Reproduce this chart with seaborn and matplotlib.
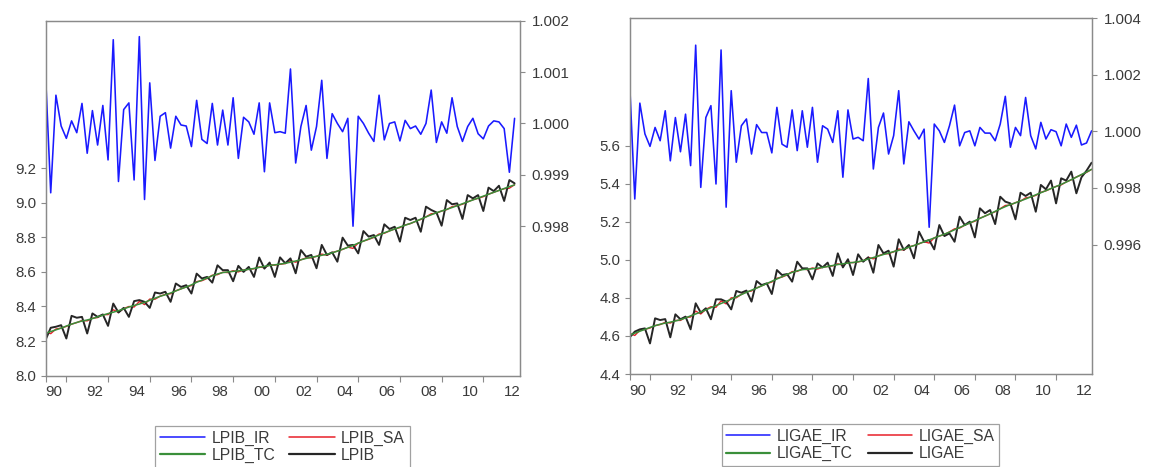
import numpy as np
import pandas as pd
import matplotlib
matplotlib.use("Agg")
import matplotlib.pyplot as plt
from matplotlib.lines import Line2D
from matplotlib.ticker import FixedLocator, FormatStrFormatter
import seaborn as sns

# ---------------- data (quarterly, 1990Q1 onward) ----------------
year_labels = ["90", "92", "94", "96", "98", "00", "02", "04", "06", "08", "10", "12"]

lpib_ir = [1.00097, 0.99865, 1.00055, 0.99995, 0.99971, 1.00005, 0.99982, 1.00039,
           0.99942, 1.00025, 0.99958, 1.00035, 0.99929, 1.00163, 0.99887, 1.00027,
           1.00040, 0.99890, 1.00169, 0.99852, 1.00079, 0.99928, 1.00014, 1.00021,
           0.99952, 1.00014, 0.99997, 0.99995, 0.99955, 1.00045, 0.99969, 0.99961,
           1.00039, 0.99958, 1.00026, 0.99958, 1.00050, 0.99932, 1.00012, 1.00003,
           0.99979, 1.00040, 0.99906, 1.00040, 0.99982, 0.99984, 0.99981, 1.00106,
           0.99923, 0.99994, 1.00035, 0.99948, 0.99994, 1.00084, 0.99932, 1.00019,
           1.00000, 0.99984, 1.00010, 0.99800, 1.00014, 1.00000, 0.99981, 0.99965,
           1.00055, 0.99968, 1.00000, 1.00003, 0.99966, 1.00006, 0.99990, 0.99995,
           0.99979, 1.00000, 1.00065, 0.99963, 1.00003, 0.99981, 1.00050, 0.99994,
           0.99965, 0.99994, 1.00010, 0.99980, 0.99970, 0.99995, 1.00005, 1.00003,
           0.99990, 0.99905, 1.00010]

lpib = [8.206, 8.277, 8.283, 8.292, 8.215, 8.346, 8.335, 8.340,
        8.244, 8.360, 8.340, 8.354, 8.288, 8.417, 8.365, 8.392,
        8.340, 8.431, 8.437, 8.427, 8.392, 8.481, 8.475, 8.485,
        8.427, 8.533, 8.513, 8.523, 8.475, 8.590, 8.562, 8.571,
        8.538, 8.638, 8.610, 8.610, 8.546, 8.635, 8.600, 8.629,
        8.571, 8.683, 8.619, 8.654, 8.571, 8.684, 8.650, 8.678,
        8.592, 8.726, 8.688, 8.698, 8.621, 8.756, 8.698, 8.713,
        8.659, 8.798, 8.752, 8.756, 8.707, 8.836, 8.804, 8.813,
        8.756, 8.875, 8.848, 8.861, 8.775, 8.913, 8.900, 8.913,
        8.832, 8.977, 8.958, 8.944, 8.867, 9.015, 8.991, 8.996,
        8.906, 9.044, 9.025, 9.044, 8.952, 9.087, 9.067, 9.098,
        9.010, 9.131, 9.112]

lpib_tc = [8.245, 8.255, 8.265, 8.275, 8.287, 8.298, 8.308, 8.316,
           8.322, 8.330, 8.340, 8.350, 8.359, 8.367, 8.376, 8.386,
           8.397, 8.406, 8.414, 8.424, 8.436, 8.448, 8.459, 8.468,
           8.478, 8.490, 8.502, 8.513, 8.525, 8.540, 8.552, 8.565,
           8.578, 8.588, 8.596, 8.600, 8.603, 8.606, 8.610, 8.615,
           8.620, 8.626, 8.632, 8.637, 8.641, 8.645, 8.650, 8.656,
           8.663, 8.670, 8.678, 8.685, 8.690, 8.696, 8.702, 8.710,
           8.720, 8.731, 8.742, 8.753, 8.766, 8.778, 8.790, 8.802,
           8.814, 8.826, 8.837, 8.848, 8.859, 8.870, 8.880, 8.892,
           8.905, 8.918, 8.930, 8.942, 8.952, 8.962, 8.972, 8.983,
           8.994, 9.005, 9.016, 9.027, 9.038, 9.049, 9.060, 9.071,
           9.082, 9.093, 9.103]

lpib_sa = [8.253, 8.243, 8.270, 8.275, 8.285, 8.298, 8.307, 8.319,
           8.317, 8.332, 8.336, 8.353, 8.353, 8.381, 8.366, 8.388,
           8.400, 8.397, 8.429, 8.411, 8.443, 8.442, 8.460, 8.470,
           8.474, 8.491, 8.502, 8.513, 8.521, 8.544, 8.549, 8.562,
           8.581, 8.584, 8.598, 8.596, 8.607, 8.600, 8.611, 8.615,
           8.618, 8.629, 8.624, 8.641, 8.639, 8.644, 8.648, 8.665,
           8.656, 8.670, 8.681, 8.681, 8.690, 8.703, 8.696, 8.712,
           8.720, 8.730, 8.743, 8.736, 8.767, 8.778, 8.788, 8.799,
           8.819, 8.823, 8.837, 8.848, 8.856, 8.871, 8.879, 8.892,
           8.903, 8.918, 8.936, 8.939, 8.952, 8.960, 8.977, 8.983,
           8.991, 9.005, 9.017, 9.025, 9.035, 9.049, 9.060, 9.071,
           9.081, 9.084, 9.104]

ligae_ir = [1.00167, 0.99761, 1.00100, 0.99991, 0.99947, 1.00014, 0.99967, 1.00073,
            0.99896, 1.00049, 0.99928, 1.00061, 0.99879, 1.00305, 0.99802, 1.00049,
            1.00091, 0.99814, 1.00288, 0.99732, 1.00144, 0.99891, 1.00020, 1.00044,
            0.99920, 1.00024, 0.99996, 0.99996, 0.99924, 1.00085, 0.99955, 0.99944,
            1.00076, 0.99932, 1.00073, 0.99944, 1.00085, 0.99891, 1.00020, 1.00008,
            0.99961, 1.00073, 0.99838, 1.00076, 0.99973, 0.99979, 0.99967, 1.00187,
            0.99867, 1.00014, 1.00065, 0.99920, 0.99985, 1.00144, 0.99885, 1.00034,
            1.00002, 0.99973, 1.00008, 0.99661, 1.00026, 1.00002, 0.99961, 1.00020,
            1.00093, 0.99949, 0.99996, 1.00002, 0.99949, 1.00014, 0.99994, 0.99994,
            0.99967, 1.00026, 1.00124, 0.99944, 1.00014, 0.99985, 1.00120, 0.99985,
            0.99938, 1.00032, 0.99973, 1.00006, 0.99999, 0.99949, 1.00026, 0.99979,
            1.00022, 0.99952, 0.99959, 1.00002]

ligae = [4.593, 4.623, 4.635, 4.640, 4.561, 4.693, 4.684, 4.689,
         4.593, 4.714, 4.688, 4.702, 4.635, 4.772, 4.723, 4.746,
         4.688, 4.793, 4.793, 4.781, 4.740, 4.837, 4.828, 4.839,
         4.781, 4.889, 4.868, 4.877, 4.821, 4.947, 4.921, 4.926,
         4.886, 4.991, 4.956, 4.956, 4.898, 4.982, 4.961, 4.986,
         4.916, 5.035, 4.961, 5.004, 4.921, 5.030, 4.991, 5.014,
         4.933, 5.079, 5.035, 5.049, 4.965, 5.109, 5.053, 5.079,
         5.009, 5.149, 5.096, 5.105, 5.056, 5.184, 5.126, 5.140,
         5.096, 5.228, 5.184, 5.202, 5.119, 5.272, 5.246, 5.263,
         5.189, 5.333, 5.307, 5.298, 5.214, 5.354, 5.337, 5.354,
         5.254, 5.395, 5.372, 5.418, 5.298, 5.430, 5.418, 5.465,
         5.351, 5.435, 5.470, 5.512]

ligae_tc = [4.605, 4.615, 4.625, 4.635, 4.645, 4.654, 4.662, 4.668,
            4.673, 4.679, 4.686, 4.695, 4.706, 4.716, 4.726, 4.737,
            4.749, 4.760, 4.771, 4.782, 4.794, 4.806, 4.818, 4.830,
            4.841, 4.852, 4.864, 4.876, 4.888, 4.900, 4.912, 4.924,
            4.935, 4.943, 4.949, 4.952, 4.954, 4.957, 4.961, 4.966,
            4.971, 4.976, 4.980, 4.984, 4.987, 4.991, 4.997, 5.005,
            5.013, 5.021, 5.029, 5.037, 5.044, 5.051, 5.058, 5.067,
            5.076, 5.086, 5.096, 5.106, 5.116, 5.126, 5.136, 5.147,
            5.159, 5.171, 5.183, 5.195, 5.207, 5.219, 5.231, 5.243,
            5.256, 5.269, 5.281, 5.292, 5.301, 5.311, 5.321, 5.332,
            5.343, 5.354, 5.365, 5.376, 5.387, 5.398, 5.410, 5.423,
            5.436, 5.450, 5.463, 5.477]

ligae_sa = [4.613, 4.603, 4.630, 4.635, 4.642, 4.655, 4.660, 4.672,
            4.668, 4.682, 4.682, 4.698, 4.700, 4.731, 4.716, 4.740,
            4.754, 4.751, 4.785, 4.769, 4.801, 4.801, 4.819, 4.832,
            4.837, 4.853, 4.864, 4.876, 4.884, 4.904, 4.910, 4.921,
            4.939, 4.940, 4.953, 4.949, 4.958, 4.952, 4.962, 4.966,
            4.969, 4.980, 4.972, 4.988, 4.986, 4.990, 4.995, 5.014,
            5.006, 5.022, 5.032, 5.033, 5.043, 5.058, 5.052, 5.069,
            5.076, 5.085, 5.096, 5.089, 5.117, 5.126, 5.134, 5.148,
            5.164, 5.168, 5.183, 5.195, 5.204, 5.220, 5.231, 5.243,
            5.254, 5.270, 5.287, 5.289, 5.302, 5.310, 5.327, 5.331,
            5.340, 5.356, 5.364, 5.376, 5.387, 5.395, 5.411, 5.422,
            5.437, 5.448, 5.461, 5.477]

# ---------------- style ----------------
sns.set_theme(style="white")
plt.rcParams["font.family"] = ["Liberation Sans", "DejaVu Sans"]
TXT = "#3a3a3a"
GRAY = "#8a8a8a"
C_IR, C_SA, C_TC, C_X = "#1a1aff", "#e8202a", "#3a8f3a", "#262626"
TICK_FS = 10.8
LEG_FS = 11.3

fig = plt.figure(figsize=(11.49, 4.67), dpi=100)
fig.patch.set_facecolor("white")
W, H = 1149.0, 467.0


def make_panel(px0, px1, py_top, py_bot, ir, sa, tc, x, name,
               ylim, yticks, ylim2, yticks2, fmt2, leg_cx, leg_top, hl, cs):
    ax = fig.add_axes([px0 / W, 1 - py_bot / H, (px1 - px0) / W, (py_bot - py_top) / H])
    idx = np.arange(len(x))
    df = pd.DataFrame({"t": idx, "sa": sa, "x": x, "tc": tc})
    sns.lineplot(data=df, x="t", y="sa", ax=ax, color=C_SA, lw=1.0)
    sns.lineplot(data=df, x="t", y="x", ax=ax, color=C_X, lw=1.4)
    sns.lineplot(data=df, x="t", y="tc", ax=ax, color=C_TC, lw=1.1)
    ax.set_xlim(0, 91)
    ax.set_ylim(*ylim)
    ax.set_xlabel("")
    ax.set_ylabel("")
    ax.set_yticks(yticks)
    ax.yaxis.set_major_formatter(FormatStrFormatter("%.1f"))
    # x axis: labels for even years, tick marks at odd-year starts
    lab_pos = [8 * k + 1.5 for k in range(len(year_labels))]
    ax.set_xticks(lab_pos)
    ax.set_xticklabels(year_labels)
    ax.xaxis.set_minor_locator(FixedLocator([0] + [8 * k + 4 for k in range(11)]))
    ax.tick_params(axis="x", which="major", length=0, pad=7, labelsize=TICK_FS, labelcolor=TXT)
    ax.tick_params(axis="x", which="minor", bottom=True, length=4, width=0.8, color=GRAY, direction="out")
    ax.tick_params(axis="y", which="major", left=True, length=3.5, width=0.8, color=GRAY,
                   direction="out", pad=3, labelsize=TICK_FS, labelcolor=TXT)
    for s in ax.spines.values():
        s.set_color(GRAY)
        s.set_linewidth(0.9)

    ax2 = ax.twinx()
    dfi = pd.DataFrame({"t": np.arange(len(ir)), "ir": ir})
    sns.lineplot(data=dfi, x="t", y="ir", ax=ax2, color=C_IR, lw=1.15)
    ax2.set_xlim(0, 91)
    ax2.set_ylim(*ylim2)
    ax2.set_yticks(yticks2)
    ax2.yaxis.set_major_formatter(FormatStrFormatter(fmt2))
    ax2.set_ylabel("")
    ax2.tick_params(axis="y", right=True, length=3.5, width=0.8, color=GRAY,
                    direction="out", pad=5, labelsize=TICK_FS, labelcolor=TXT)
    for s in ax2.spines.values():
        s.set_color(GRAY)
        s.set_linewidth(0.9)

    handles = [Line2D([], [], color=C_IR, lw=1.1), Line2D([], [], color=C_TC, lw=1.6),
               Line2D([], [], color=C_SA, lw=1.1), Line2D([], [], color=C_X, lw=1.6)]
    labels = [name + "_IR", name + "_TC", name + "_SA", name]
    leg = fig.legend(handles, labels, ncol=2, loc="upper center",
                     bbox_to_anchor=(leg_cx / W, 1 - leg_top / H), borderaxespad=0,
                     frameon=True, fancybox=False, edgecolor=GRAY, fontsize=LEG_FS,
                     handlelength=hl, handletextpad=0.4, columnspacing=cs,
                     labelspacing=0.15, borderpad=0.3)
    leg.get_frame().set_linewidth(0.9)
    for t in leg.get_texts():
        t.set_color(TXT)
    return ax, ax2


make_panel(45.5, 519.8, 20.7, 375.7, lpib_ir, lpib_sa, lpib_tc, lpib, "LPIB",
           (8.0, 10.052), [8.0, 8.2, 8.4, 8.6, 8.8, 9.0, 9.2],
           (0.99509, 1.00195), [0.998, 0.999, 1.000, 1.001, 1.002], "%.3f",
           282.2, 425.7, 2.9, 0.9)

make_panel(629.7, 1091.6, 18.3, 374.0, ligae_ir, ligae_sa, ligae_tc, ligae, "LIGAE",
           (4.4, 6.272), [4.4, 4.6, 4.8, 5.0, 5.2, 5.4, 5.6],
           (0.99142, 1.003965), [0.996, 0.998, 1.000, 1.002, 1.004], "%.3f",
           860.3, 424.0, 2.8, 1.0)

fig.savefig("out.png", dpi=100)
